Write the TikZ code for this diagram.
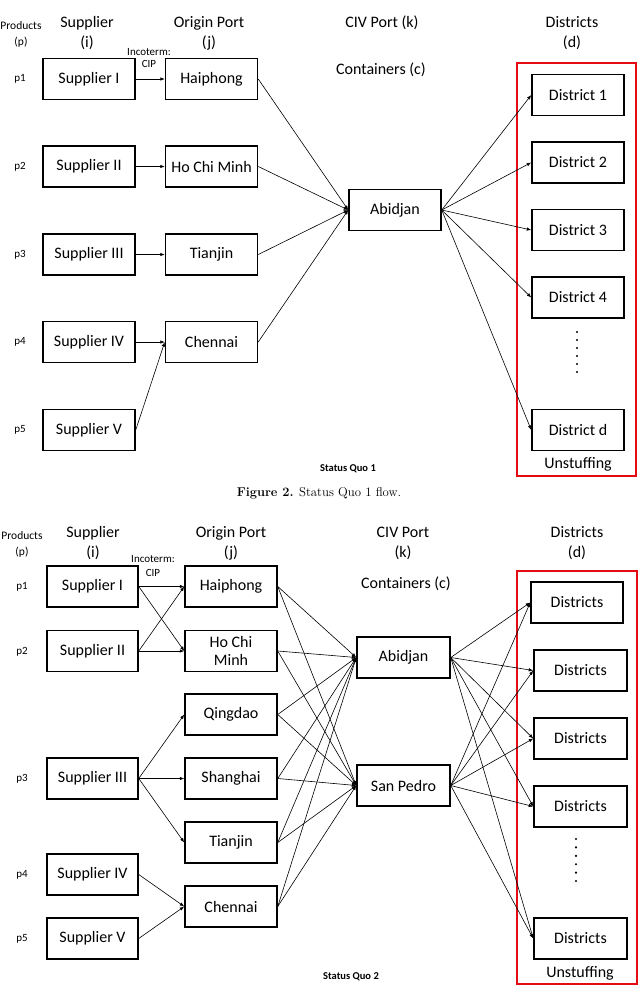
\documentclass[tikz,border=0pt]{standalone}
\usepackage{fontspec}
\usepackage{tikz}
\usetikzlibrary{arrows.meta}
\newfontfamily\calibri{Carlito}
\definecolor{unstuffred}{RGB}{228,12,18}

\tikzset{
  box/.style={draw, line width=1.5pt, minimum width=92pt, minimum height=41pt, inner sep=0pt, align=center, font=\calibri\fontsize{16}{18}\selectfont},
  hdr/.style={inner sep=0pt, align=center, font=\calibri\fontsize{16}{20}\selectfont},
  lbl/.style={inner sep=0pt, align=center, font=\calibri\fontsize{11}{13}\selectfont},
  flow/.style={line width=0.6pt, -{Latex[length=4.5pt,width=3.5pt]}},
}

\begin{document}
\begin{tikzpicture}[x=1pt,y=1pt,yscale=-1,xscale=1]
\useasboundingbox (0,0) rectangle (641,1001);

%%%%%%%%%%%%%%%% Status Quo 1 %%%%%%%%%%%%%%%%

% Text Node
\draw (21,34) node [lbl, font=\calibri\fontsize{11.5}{16}\selectfont] (prodA) {Products\\(p)};
\draw (87,33) node [hdr] (hsupA) {Supplier\\(i)};
\draw (209,33) node [hdr] (horigA) {Origin Port\\(j)};
\draw (149,58) node [lbl, font=\calibri\fontsize{11}{12.5}\selectfont] (incoA) {Incoterm:\\CIP};
\draw (382,23) node [hdr] (hcivA) {CIV Port (k)};
\draw (381,70) node [hdr] (hcontA) {Containers (c)};
\draw (572,33) node [hdr] (hdistA) {Districts\\(d)};
% Text Node
\draw (20,79) node [lbl] (pA1) {p1};
\draw (20,166.5) node [lbl] (pA2) {p2};
\draw (20,254.5) node [lbl] (pA3) {p3};
\draw (20,342) node [lbl] (pA4) {p4};
\draw (20,430) node [lbl] (pA5) {p5};

% Boxes
\draw (89,79) node [box] (supI) {Supplier I};
\draw (89,166.5) node [box] (supII) {Supplier II};
\draw (89,254.5) node [box] (supIII) {Supplier III};
\draw (89,342) node [box] (supIV) {Supplier IV};
\draw (89,430) node [box] (supV) {Supplier V};
\draw (211.5,79) node [box] (hai) {Haiphong};
\draw (211.5,166.5) node [box] (hcm) {Ho Chi Minh};
\draw (211.5,254.5) node [box] (tia) {Tianjin};
\draw (211.5,342) node [box] (che) {Chennai};
\draw (395,210) node [box] (abi) {Abidjan};
\draw (578,95) node [box] (dist1) {District 1};
\draw (578,162.5) node [box] (dist2) {District 2};
\draw (578,230) node [box] (dist3) {District 3};
\draw (578,297.5) node [box] (dist4) {District 4};
\draw (578,430) node [box] (distd) {District d};

% Unstuffing frame
\draw [unstuffred, line width=2.6pt] (517,63) rectangle (636,476);
\draw (578,464) node [hdr] (unstA) {Unstuffing};
\draw [line width=2.4pt, line cap=round, dash pattern=on 0pt off 8pt] (577,332) -- (577,373);

%Straight Lines
\draw [flow] (supI.east) -- (hai.west);
\draw [flow] (supII.east) -- (hcm.west);
\draw [flow] (supIII.east) -- (tia.west);
\draw [flow] (supIV.east) -- (che.west);
\draw [flow] (supV.east) -- (che.west);
%Straight Lines
\draw [flow] (hai.east) -- (abi.west);
\draw [flow] (hcm.east) -- (abi.west);
\draw [flow] (tia.east) -- (abi.west);
\draw [flow] (che.east) -- (abi.west);
%Straight Lines
\draw [flow] (abi.east) -- (dist1.west);
\draw [flow] (abi.east) -- (dist2.west);
\draw [flow] (abi.east) -- (dist3.west);
\draw [flow] (abi.east) -- (dist4.west);
\draw [flow] (abi.east) -- (distd.west);

% Text Node
\draw (348,469) node [inner sep=0pt, font=\calibri\bfseries\fontsize{10.5}{12}\selectfont] (sqA) {Status Quo 1};
\draw (319,493) node [inner sep=0pt, font=\fontsize{12.8}{14}\selectfont] (capA) {\textbf{Figure 2.} Status Quo 1 flow.};

%%%%%%%%%%%%%%%% Status Quo 2 %%%%%%%%%%%%%%%%

% Text Node
\draw (22,544.5) node [lbl, font=\calibri\fontsize{11.5}{16}\selectfont] (prodB) {Products\\(p)};
\draw (93,543) node [hdr] (hsupB) {Supplier\\(i)};
\draw (231,543) node [hdr] (horigB) {Origin Port\\(j)};
\draw (153,566) node [lbl, font=\calibri\fontsize{11}{14}\selectfont] (incoB) {Incoterm:\\CIP};
\draw (403,543) node [hdr] (hcivB) {CIV Port\\(k)};
\draw (406,584) node [hdr] (hcontB) {Containers (c)};
\draw (577,543) node [hdr] (hdistB) {Districts\\(d)};
% Text Node
\draw (22,587) node [lbl] (pB1) {p1};
\draw (22,652) node [lbl] (pB2) {p2};
\draw (22,779) node [lbl] (pB3) {p3};
\draw (22,875) node [lbl] (pB4) {p4};
\draw (22,939) node [lbl] (pB5) {p5};

% Boxes
\draw (92.5,586.5) node [box, minimum width=91pt] (supIb) {Supplier I};
\draw (92.5,651) node [box, minimum width=91pt] (supIIb) {Supplier II};
\draw (92.5,778.5) node [box, minimum width=91pt] (supIIIb) {Supplier III};
\draw (92.5,874.5) node [box, minimum width=91pt] (supIVb) {Supplier IV};
\draw (92.5,938.5) node [box, minimum width=91pt] (supVb) {Supplier V};
\draw (231,586.5) node [box] (haib) {Haiphong};
\draw (231,651) node [box] (hcmb) {Ho Chi\\Minh};
\draw (231,714.5) node [box] (qin) {Qingdao};
\draw (231,778.5) node [box] (sha) {Shanghai};
\draw (231,842.5) node [box] (tiab) {Tianjin};
\draw (231,906.5) node [box] (cheb) {Chennai};
\draw (403.5,657.5) node [box, minimum width=93pt] (abib) {Abidjan};
\draw (403.5,785.5) node [box, minimum width=93pt] (spd) {San Pedro};
\draw (577,602.5) node [box] (dstB1) {Districts};
\draw (580.5,670.5) node [box, minimum width=93pt] (dstB2) {Districts};
\draw (580.5,738.5) node [box, minimum width=93pt] (dstB3) {Districts};
\draw (580.5,806.5) node [box, minimum width=93pt] (dstB4) {Districts};
\draw (580.5,938.5) node [box, minimum width=93pt] (dstB5) {Districts};

% Unstuffing frame
\draw [unstuffred, line width=2.6pt] (517,571) rectangle (637,984);
\draw (580,973) node [hdr] (unstB) {Unstuffing};
\draw [line width=2.4pt, line cap=round, dash pattern=on 0pt off 8.4pt] (576,839) -- (576,882);

%Straight Lines
\draw [flow] (supIb.east) -- (haib.west);
\draw [flow] (supIb.east) -- (hcmb.west);
\draw [flow] (supIIb.east) -- (haib.west);
\draw [flow] (supIIb.east) -- (hcmb.west);
\draw [flow] (supIIIb.east) -- (qin.west);
\draw [flow] (supIIIb.east) -- (sha.west);
\draw [flow] (supIIIb.east) -- (tiab.west);
\draw [flow] (supIVb.east) -- (cheb.west);
\draw [flow] (supVb.east) -- (cheb.west);
%Straight Lines
\draw [flow] (haib.east) -- (abib.west);
\draw [flow] (haib.east) -- (spd.west);
\draw [flow] (hcmb.east) -- (abib.west);
\draw [flow] (hcmb.east) -- (spd.west);
\draw [flow] (qin.east) -- (abib.west);
\draw [flow] (qin.east) -- (spd.west);
\draw [flow] (sha.east) -- (abib.west);
\draw [flow] (sha.east) -- (spd.west);
\draw [flow] (tiab.east) -- (abib.west);
\draw [flow] (tiab.east) -- (spd.west);
\draw [flow] (cheb.east) -- (abib.west);
\draw [flow] (cheb.east) -- (spd.west);
%Straight Lines
\draw [flow] (abib.east) -- (dstB1.west);
\draw [flow] (abib.east) -- (dstB2.west);
\draw [flow] (abib.east) -- (dstB3.west);
\draw [flow] (abib.east) -- (dstB4.west);
\draw [flow] (abib.east) -- (dstB5.west);
\draw [flow] (spd.east) -- (dstB1.west);
\draw [flow] (spd.east) -- (dstB2.west);
\draw [flow] (spd.east) -- (dstB3.west);
\draw [flow] (spd.east) -- (dstB4.west);
\draw [flow] (spd.east) -- (dstB5.west);

% Text Node
\draw (351,977) node [inner sep=0pt, font=\calibri\bfseries\fontsize{10.5}{12}\selectfont] (sqB) {Status Quo 2};

\end{tikzpicture}
\end{document}
